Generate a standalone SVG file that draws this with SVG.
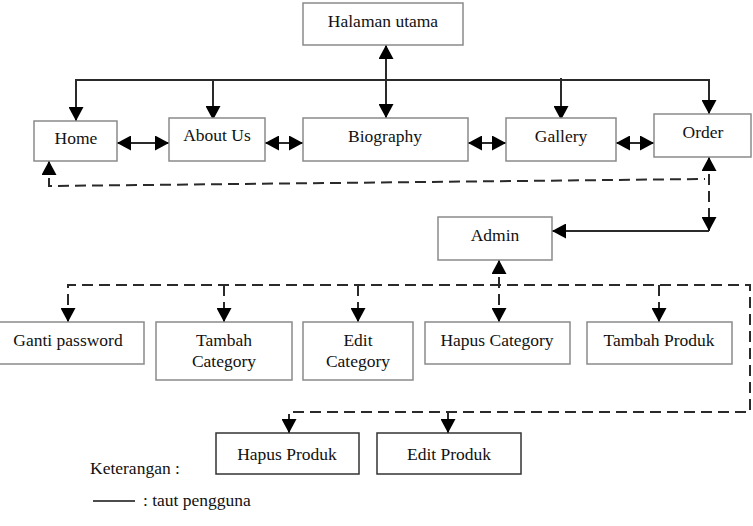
<svg xmlns="http://www.w3.org/2000/svg" width="753" height="526" viewBox="0 0 753 526">
<style>
  .box { fill: #ffffff; stroke: #8a8a8a; stroke-width: 1.5; }
  .box2 { fill: #ffffff; stroke: #333333; stroke-width: 1.5; }
  .lbl { font-family: "Liberation Serif", "Times New Roman", serif; font-size: 17.5px; fill: #111111; text-anchor: middle; }
  .txt { font-family: "Liberation Serif", "Times New Roman", serif; font-size: 17.5px; fill: #111111; }
  .solid { fill: none; stroke: #2a2a2a; stroke-width: 2; }
  .dash { fill: none; stroke: #2a2a2a; stroke-width: 2; stroke-dasharray: 11 6; }
</style>
<defs>
  <marker id="arr" markerUnits="userSpaceOnUse" markerWidth="14" markerHeight="15" refX="14" refY="7.5" orient="auto-start-reverse" viewBox="0 0 14 15">
    <path d="M0,0 L14,7.5 L0,15 Z" fill="#000000" stroke="none"/>
  </marker>
</defs>

<g id="connectors">
  <!-- solid user links -->
  <path class="solid" d="M76,107 V80 H709 V100"/>
  <line class="solid" x1="76" y1="80" x2="76" y2="121" marker-end="url(#arr)"/>
  <line class="solid" x1="213" y1="80" x2="213" y2="120" marker-end="url(#arr)"/>
  <line class="solid" x1="561" y1="78" x2="561" y2="120" marker-end="url(#arr)"/>
  <line class="solid" x1="709" y1="80" x2="709" y2="114" marker-end="url(#arr)"/>
  <line class="solid" x1="386" y1="45" x2="386" y2="118" marker-start="url(#arr)" marker-end="url(#arr)"/>
  <line class="solid" x1="117" y1="143" x2="169" y2="143" marker-start="url(#arr)" marker-end="url(#arr)"/>
  <line class="solid" x1="265" y1="143" x2="303" y2="143" marker-start="url(#arr)" marker-end="url(#arr)"/>
  <line class="solid" x1="468" y1="143" x2="506" y2="143" marker-start="url(#arr)" marker-end="url(#arr)"/>
  <line class="solid" x1="616" y1="143" x2="654" y2="143" marker-start="url(#arr)" marker-end="url(#arr)"/>
  <line class="solid" x1="709" y1="231" x2="552" y2="231" marker-end="url(#arr)"/>
  <!-- dashed admin links -->
  <path class="dash" d="M49,161 V186 L705,179" marker-start="url(#arr)"/>
  <line class="dash" x1="709" y1="157" x2="709" y2="231" marker-start="url(#arr)" marker-end="url(#arr)"/>
  <line class="dash" x1="499" y1="260" x2="499" y2="322" marker-start="url(#arr)" marker-end="url(#arr)"/>
  <path class="dash" d="M68,322 V285 H750 V412 H289 V433" marker-start="url(#arr)" marker-end="url(#arr)"/>
  <line class="dash" x1="224" y1="285" x2="224" y2="322" marker-end="url(#arr)"/>
  <line class="dash" x1="358" y1="285" x2="358" y2="322" marker-end="url(#arr)"/>
  <line class="dash" x1="659" y1="285" x2="659" y2="322" marker-end="url(#arr)"/>
  <line class="dash" x1="448" y1="412" x2="448" y2="433" marker-end="url(#arr)"/>
</g>

<g id="halaman-utama"><rect class="box" x="303" y="3" width="160" height="42"/><text class="lbl" x="383" y="27">Halaman utama</text></g>
<g id="home"><rect class="box" x="34" y="121" width="83" height="40"/><text class="lbl" x="76" y="144">Home</text></g>
<g id="about-us"><rect class="box" x="169" y="118" width="96" height="43"/><text class="lbl" x="217" y="141">About Us</text></g>
<g id="biography"><rect class="box" x="303" y="118" width="165" height="43"/><text class="lbl" x="385" y="142">Biography</text></g>
<g id="gallery"><rect class="box" x="506" y="118" width="110" height="43"/><text class="lbl" x="561" y="142">Gallery</text></g>
<g id="order"><rect class="box" x="654" y="114" width="97" height="43"/><text class="lbl" x="703" y="138">Order</text></g>
<g id="admin"><rect class="box" x="438" y="217" width="114" height="43"/><text class="lbl" x="495" y="241">Admin</text></g>
<g id="ganti-password"><rect class="box" x="-2" y="322" width="146" height="42"/><text class="lbl" x="68" y="346">Ganti password</text></g>
<g id="tambah-category"><rect class="box" x="156" y="322" width="136" height="58"/><text class="lbl" x="224" y="346">Tambah</text><text class="lbl" x="224" y="367">Category</text></g>
<g id="edit-category"><rect class="box" x="303" y="322" width="110" height="58"/><text class="lbl" x="358" y="346">Edit</text><text class="lbl" x="358" y="367">Category</text></g>
<g id="hapus-category"><rect class="box" x="425" y="322" width="145" height="42"/><text class="lbl" x="497" y="346">Hapus Category</text></g>
<g id="tambah-produk"><rect class="box" x="587" y="322" width="145" height="42"/><text class="lbl" x="659" y="346">Tambah Produk</text></g>
<g id="hapus-produk"><rect class="box2" x="216" y="433" width="143" height="41"/><text class="lbl" x="287" y="460">Hapus Produk</text></g>
<g id="edit-produk"><rect class="box2" x="377" y="433" width="144" height="41"/><text class="lbl" x="449" y="460">Edit Produk</text></g>

<g id="legend">
  <text class="txt" x="90" y="474">Keterangan :</text>
  <line x1="93" y1="501" x2="135" y2="501" stroke="#111111" stroke-width="1.5"/>
  <text class="txt" x="143" y="506">: taut pengguna</text>
</g>
</svg>
